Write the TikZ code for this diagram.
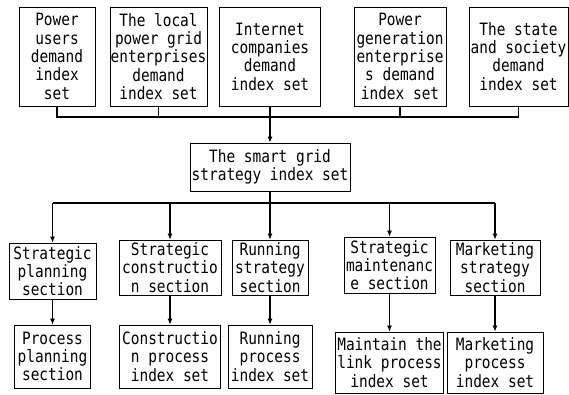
\documentclass[tikz,border=0pt]{standalone}
\usepackage{fontspec}
\setmainfont{DejaVu Sans Mono}[FakeStretch=0.85]
\usepackage{tikz}
\usetikzlibrary{arrows.meta, positioning, calc}

\begin{document}
\begin{tikzpicture}[x=1pt, y=-1pt,
  font=\fontsize{17pt}{18.3pt}\selectfont,
  box/.style={rectangle, draw, line width=0.7pt, align=center, inner sep=0pt},
  link/.style={line width=1.1pt},
  arr/.style={line width=1.1pt, -{Latex[length=6pt,width=5pt]}}]
\useasboundingbox (0,0) rectangle (569,394);
% demand index sets
\node (users) [box, minimum width=76pt, minimum height=99pt] at (57,56.5) {Power\\users\\demand\\index\\set};
\node (grid) [box, minimum width=97pt, minimum height=99pt] at (158.5,56.5) {The local\\power grid\\enterprises\\demand\\index set};
\node (net) [box, minimum width=101pt, minimum height=99pt] at (270,56.5) {Internet\\companies\\demand\\index set};
\node (gen) [box, minimum width=92pt, minimum height=99pt] at (400,56.5) {Power\\generation\\enterprise\\s demand\\index set};
\node (state) [box, minimum width=99pt, minimum height=99pt] at (518.5,56.5) {The state\\and society\\demand\\index set};
% strategy index set
\node (smart) [box, minimum width=160pt, minimum height=48pt] at (270,167) {The smart grid\\strategy index set};
% sections
\node (plan) [box, minimum width=87pt, minimum height=56pt] at (52.5,271) {Strategic\\planning\\section};
\node (build) [box, minimum width=102pt, minimum height=55pt] at (170,267.5) {Strategic\\constructio\\n section};
\node (run) [box, minimum width=76pt, minimum height=55pt] at (270,267.5) {Running\\strategy\\section};
\node (keep) [box, minimum width=91pt, minimum height=56pt] at (389.5,265) {Strategic\\maintenanc\\e section};
\node (market) [box, minimum width=90pt, minimum height=55pt] at (495,267.5) {Marketing\\strategy\\section};
% process index sets
\node (planp) [box, minimum width=76pt, minimum height=63pt] at (52.5,356.5) {Process\\planning\\section};
\node (buildp) [box, minimum width=101pt, minimum height=63pt] at (170,356.5) {Constructio\\n process\\index set};
\node (runp) [box, minimum width=84pt, minimum height=63pt] at (270,356.5) {Running\\process\\index set};
\node (keepp) [box, minimum width=108pt, minimum height=61pt] at (389.5,362.5) {Maintain the\\link process\\index set};
\node (marketp) [box, minimum width=96pt, minimum height=61pt] at (495,362.5) {Marketing\\process\\index set};
% connectors
\coordinate (bus1) at (270,117);
\coordinate (bus2) at (270,203);
\draw [link] (users.south) -- (users.south |- bus1) -- (state.south |- bus1) -- (state.south);
\draw [link] (grid.south) -- (grid.south |- bus1);
\draw [link] (gen.south) -- (gen.south |- bus1);
\draw [arr] (net.south) -- (smart.north);
\draw [link] (smart.south) -- (bus2);
\draw [link] (plan.north |- bus2) -- (market.north |- bus2);
\foreach \s/\p in {plan/planp, build/buildp, run/runp, keep/keepp, market/marketp} {
  \draw [arr] (\s.north |- bus2) -- (\s.north);
  \draw [arr] (\s.south) -- (\p.north);
}
\end{tikzpicture}
\end{document}
